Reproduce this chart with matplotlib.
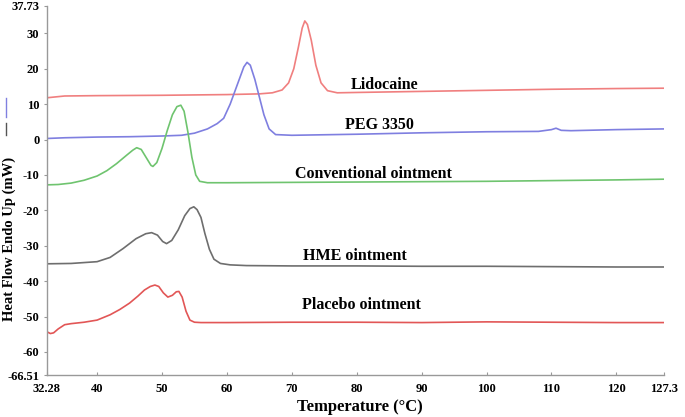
import matplotlib
matplotlib.use("Agg")
import matplotlib.pyplot as plt
from matplotlib.lines import Line2D

plt.rcParams['font.family'] = ['Liberation Serif', 'DejaVu Serif']
plt.rcParams['axes.unicode_minus'] = False

# DSC curves (temperature in degC, heat flow in mW)
lido_t = [32.28, 35, 40, 50, 60, 65, 67, 68.5, 69.5, 70.3, 71, 71.6, 72.0, 72.4,
          73, 73.7, 74.5, 75.5, 77, 80, 90, 100, 110, 120, 127.3]
lido_y = [11.8, 12.3, 12.4, 12.5, 12.7, 12.9, 13.2, 14, 16, 20, 26, 31.5, 33.5, 32.5,
          28, 21, 16, 13.8, 13.2, 13.3, 13.6, 13.9, 14.2, 14.4, 14.5]

peg_t = [32.28, 35, 40, 45, 50, 53, 55, 57, 58.5, 59.5, 60.5, 61.3, 62, 62.6, 63.1,
         63.6, 64.3, 65, 65.7, 66.5, 67.5, 70, 80, 90, 100, 108, 110, 110.7, 111.5,
         113, 120, 127.3]
peg_y = [0.3, 0.5, 0.7, 0.8, 1.0, 1.2, 1.8, 3.0, 4.5, 6.0, 10, 14, 17.5, 20.5, 21.8,
         21, 17, 12, 7, 3, 1.4, 1.2, 1.5, 1.9, 2.2, 2.3, 2.8, 3.2, 2.6, 2.5, 2.8, 3.0]

conv_t = [32.28, 34, 36, 38, 40, 41.5, 43, 44.5, 45.5, 46.1, 46.8, 47.6, 48.3, 48.6,
          49.2, 50, 50.8, 51.6, 52.3, 52.9, 53.4, 54, 54.6, 55.2, 55.8, 57, 60, 70,
          80, 90, 100, 110, 120, 127.3]
conv_y = [-12.8, -12.7, -12.3, -11.5, -10.3, -8.8, -6.8, -4.5, -3, -2.3, -2.8, -5.2,
          -7.3, -7.6, -6.5, -2.5, 2.5, 7, 9.3, 9.7, 8, 2, -5, -10, -11.8, -12.2,
          -12.2, -12.1, -12.0, -11.9, -11.8, -11.6, -11.4, -11.2]

hme_t = [32.28, 36, 40, 42, 44, 46, 47.5, 48.4, 49.3, 50.1, 50.7, 51.5, 52.5, 53.5,
         54.3, 54.9, 55.4, 56, 56.6, 57.3, 58, 59, 60.5, 63, 70, 80, 90, 100, 110,
         120, 127.3]
hme_y = [-35.1, -35.0, -34.5, -33.3, -30.8, -28, -26.6, -26.3, -27, -28.8, -29.4,
         -28.5, -25.5, -21.5, -19.5, -19, -19.8, -22, -26.5, -31, -33.8, -35, -35.4,
         -35.6, -35.7, -35.7, -35.8, -35.8, -35.9, -36, -36]

plac_t = [32.28, 32.8, 33.3, 34, 35, 36, 38, 40, 42, 43.5, 45, 46.3, 47.3, 48.2,
          48.9, 49.5, 50.2, 50.9, 51.6, 52.2, 52.6, 53.1, 53.7, 54.3, 55, 56, 60,
          70, 80, 90, 100, 110, 120, 127.3]
plac_y = [-54.3, -54.8, -54.6, -53.5, -52.3, -52, -51.6, -51, -49.5, -48, -46.2,
          -44.2, -42.5, -41.5, -41.1, -41.5, -43.3, -44.5, -44, -43, -42.9, -44.5,
          -48.5, -51, -51.6, -51.7, -51.7, -51.6, -51.6, -51.7, -51.5, -51.6, -51.7,
          -51.7]

x_ticks = [32.28, 40, 50, 60, 70, 80, 90, 100, 110, 120, 127.3]
x_labels = ['32.28', '40', '50', '60', '70', '80', '90', '100', '110', '120', '127.3']
y_ticks = [-66.51, -60, -50, -40, -30, -20, -10, 0, 10, 20, 30, 37.73]
y_labels = ['-66.51', '-60', '-50', '-40', '-30', '-20', '-10', '0', '10', '20', '30', '37.73']

fig = plt.figure(figsize=(6.85, 4.17), dpi=100)
ax = fig.add_axes([0.0686, 0.1007, 0.9004, 0.885])

ax.plot(lido_t, lido_y, color='#f07f7f', lw=1.2)
ax.plot(peg_t, peg_y, color='#7f7fe0', lw=1.2)
ax.plot(conv_t, conv_y, color='#6fc46f', lw=1.2)
ax.plot(hme_t, hme_y, color='#6e6e6e', lw=1.2)
ax.plot(plac_t, plac_y, color='#e25656', lw=1.2)

lab = dict(fontsize=11.5, fontweight='bold', ha='left', va='center')
ax.text(79.1, 15.4, 'Lidocaine', **lab)
ax.text(78.2, 4.1, 'PEG 3350', **lab)
ax.text(70.5, -9.7, 'Conventional ointment', **lab)
ax.text(71.7, -32.9, 'HME ointment', **lab)
ax.text(71.5, -46.7, 'Placebo ointment', **lab)

ax.set_xlim(32.28, 127.3)
ax.set_ylim(-66.51, 37.73)
ax.set_xticks(x_ticks)
ax.set_xticklabels(x_labels, fontsize=9, fontweight='bold')
ax.set_yticks(y_ticks)
ax.set_yticklabels(y_labels, fontsize=9, fontweight='bold')
ax.tick_params(colors='#999999', labelcolor='black', length=2, width=0.8)
ax.tick_params(axis='x', direction='in', pad=6)

for s in ['top', 'right']:
    ax.spines[s].set_visible(False)
for s in ['left', 'bottom']:
    ax.spines[s].set_color('#999999')
    ax.spines[s].set_linewidth(1.0)

# axis titles placed by hand, the tick labels leave little room
fig.text(360 / 685, 1 - 407 / 417, 'Temperature (\u00b0C)', fontsize=12,
         fontweight='bold', ha='center', va='center')
fig.text(9 / 685, 1 - 239 / 417, 'Heat Flow Endo Up (mW)', fontsize=10.5,
         fontweight='bold', ha='center', va='center', rotation=90)

# little vertical legend marks beside the y label
fig.add_artist(Line2D([0.009, 0.009], [1 - 117 / 417, 1 - 98 / 417], color='#8080e0', lw=1))
fig.add_artist(Line2D([0.009, 0.009], [1 - 135 / 417, 1 - 123 / 417], color='#555555', lw=1))

fig.savefig('out.png', dpi=100)
